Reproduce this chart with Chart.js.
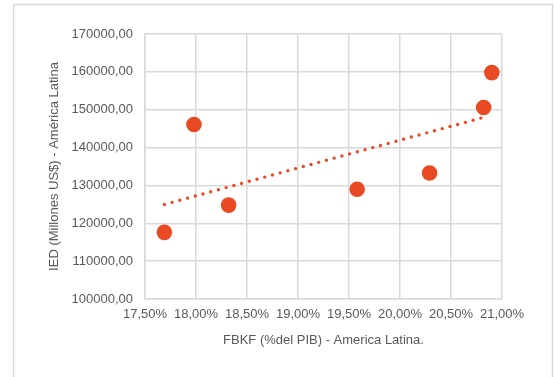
<!DOCTYPE html>
<html>
<head>
<meta charset="utf-8">
<script src="https://cdn.jsdelivr.net/npm/chart.js@4/dist/chart.umd.min.js"></script>
<style>
  html, body { margin: 0; padding: 0; background: #ffffff; }
  #wrap { position: relative; width: 554px; height: 377px; }
</style>
</head>
<body>
<div id="wrap"><canvas id="c" width="554" height="377"></canvas></div>
<script>
// FBKF (% del PIB) on the x axis, IED (millones US$) on the y axis
const fbkf = [17.69, 17.98, 18.32, 19.58, 20.29, 20.82, 20.90];
const ied  = [117600, 146100, 124800, 129000, 133300, 150600, 159800];

// axis ranges and ticks
const xTicks = [17.5, 18.0, 18.5, 19.0, 19.5, 20.0, 20.5, 21.0];
const yTicks = [100000, 110000, 120000, 130000, 140000, 150000, 160000, 170000];
const trendEnd = 20.82;

const xTitle = 'FBKF (%del PIB) - America Latina.';
const yTitle = 'IED (Millones US$) - América Latina';

// least-squares linear trend
function linearFit(xs, ys) {
  const n = xs.length;
  const mx = xs.reduce((a, b) => a + b, 0) / n;
  const my = ys.reduce((a, b) => a + b, 0) / n;
  let sxy = 0, sxx = 0;
  for (let i = 0; i < n; i++) {
    sxy += (xs[i] - mx) * (ys[i] - my);
    sxx += (xs[i] - mx) * (xs[i] - mx);
  }
  const slope = sxy / sxx;
  return x => my + slope * (x - mx);
}
const fit = linearFit(fbkf, ied);
const trendStart = Math.min(...fbkf);
const trendPoints = [
  { x: trendStart, y: fit(trendStart) },
  { x: trendEnd, y: fit(trendEnd) }
];

const points = fbkf.map((x, i) => ({ x, y: ied[i] }));

const fmt = v => v.toFixed(2).replace('.', ',');

const cardBorder = {
  id: 'cardBorder',
  beforeDraw(chart) {
    const ctx = chart.ctx;
    ctx.save();
    ctx.fillStyle = '#ffffff';
    ctx.fillRect(0, 0, chart.width, chart.height);
    ctx.strokeStyle = '#d9d9d9';
    ctx.lineWidth = 1.5;
    ctx.strokeRect(13.5, 4.5, 539, 400);
    ctx.restore();
  }
};

const textColor = '#595959';
const gridColor = '#d9d9d9';
const markColor = '#e84a23';
const fontFamily = 'Liberation Sans, Arial, sans-serif';

new Chart(document.getElementById('c'), {
  type: 'scatter',
  data: {
    datasets: [
      {
        label: 'Tendencia',
        type: 'line',
        data: trendPoints,
        borderColor: markColor,
        borderWidth: 3.4,
        borderDash: [0, 8],
        borderCapStyle: 'round',
        pointRadius: 0,
        fill: false,
        order: 0
      },
      {
        label: 'IED',
        data: points,
        backgroundColor: markColor,
        borderColor: markColor,
        borderWidth: 0,
        pointRadius: 7.8,
        pointHoverRadius: 7.8,
        order: 1
      }
    ]
  },
  options: {
    responsive: false,
    animation: false,
    events: [],
    layout: { padding: { left: 40, top: 34, right: 52, bottom: 28 } },
    plugins: {
      legend: { display: false },
      tooltip: { enabled: false }
    },
    scales: {
      x: {
        type: 'linear',
        min: 17.5,
        max: 21,
        afterBuildTicks: s => { s.ticks = xTicks.map(v => ({ value: v })); },
        afterFit: s => { s.height = 50; },
        ticks: {
          color: textColor,
          font: { family: fontFamily, size: 13 },
          padding: 8,
          maxRotation: 0,
          autoSkip: false,
          callback: v => fmt(v) + '%'
        },
        grid: { color: gridColor, lineWidth: 1.5, drawTicks: false },
        border: { color: gridColor, width: 1.5 },
        title: {
          display: true,
          text: xTitle,
          color: textColor,
          font: { family: fontFamily, size: 13 },
          padding: { top: 0, bottom: 1 }
        }
      },
      y: {
        type: 'linear',
        min: 100000,
        max: 170000,
        afterBuildTicks: s => { s.ticks = yTicks.map(v => ({ value: v })); },
        afterFit: s => { s.width = 105; },
        ticks: {
          color: textColor,
          font: { family: fontFamily, size: 13 },
          padding: 12,
          callback: v => fmt(v)
        },
        grid: { color: gridColor, lineWidth: 1.5, drawTicks: false },
        border: { color: gridColor, width: 1.5 },
        title: {
          display: true,
          text: yTitle,
          color: textColor,
          font: { family: fontFamily, size: 13 },
          padding: { top: 7, bottom: 0 }
        }
      }
    }
  },
  plugins: [cardBorder]
});
</script>
</body>
</html>
